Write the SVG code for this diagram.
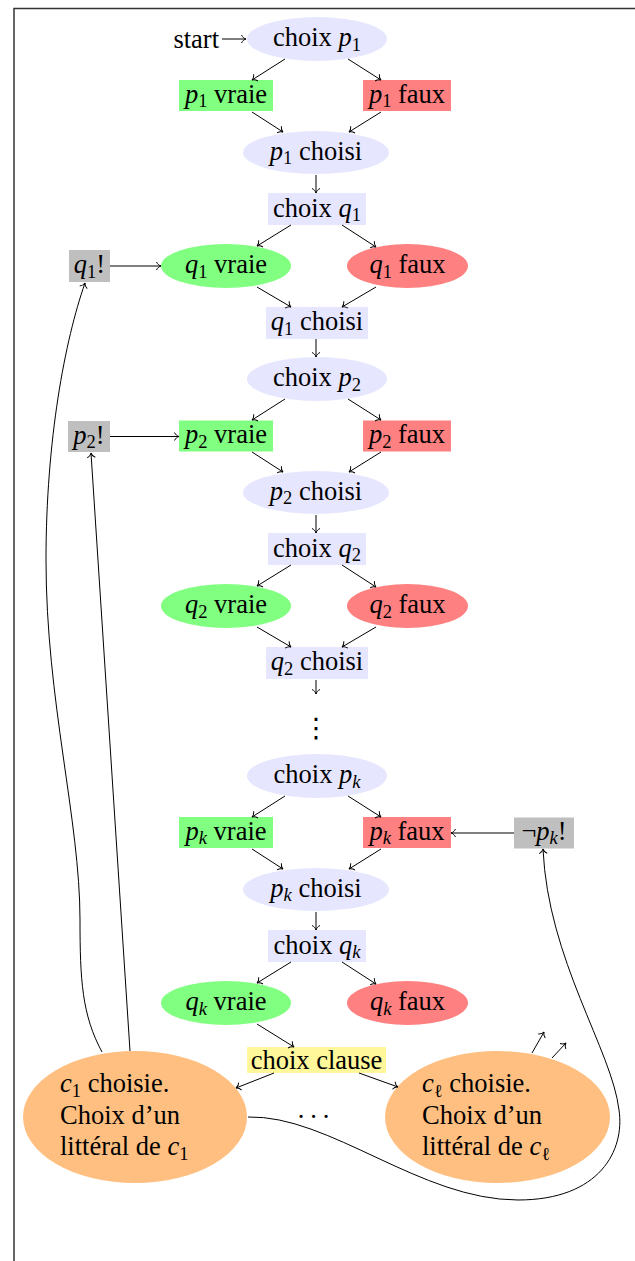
<svg xmlns="http://www.w3.org/2000/svg" width="635" height="1261" viewBox="0 0 635 1261">
<style>
.t{font-family:"Liberation Serif","Times New Roman",serif;font-size:26.5px;fill:#000}
.c{text-anchor:middle}
.m{font-style:italic}
.s{font-size:18.5px}
.lav{fill:#e6e6ff}
.grn{fill:#80ff80}
.red{fill:#ff8080}
.gry{fill:#bfbfbf}
.yel{fill:#fff799}
.org{fill:#ffbf80}
.e{fill:none;stroke:#000;stroke-width:1;marker-end:url(#ah)}
</style>
<defs>
<marker id="ah" viewBox="-6 -5 7 10" refX="0" refY="0" markerWidth="7" markerHeight="10" markerUnits="userSpaceOnUse" orient="auto" overflow="visible">
<path d="M-4.5,-4 C-3.5,-1.8 -1.6,-0.4 0,0 C-1.6,0.4 -3.5,1.8 -4.5,4" fill="none" stroke="#000" stroke-width="1"/>
</marker>
</defs>
<rect width="635" height="1261" fill="#fff"/>
<path d="M14,1261 V8.5 H635" fill="none" stroke="#333" stroke-width="1.5"/>

<!-- Block 1 -->
<g id="choix_p1"><ellipse class="lav" cx="317" cy="39" rx="70" ry="22"/><text class="t c" x="317" y="46">choix <tspan class="m">p</tspan><tspan class="s" dy="4.5">1</tspan></text></g>
<g id="p1_vraie"><rect class="grn" x="179" y="80" width="94" height="31"/><text class="t c" x="226" y="102.5"><tspan class="m">p</tspan><tspan class="s" dy="4.5">1</tspan><tspan dy="-4.5"> vraie</tspan></text></g>
<g id="p1_faux"><rect class="red" x="363" y="80" width="88" height="31"/><text class="t c" x="407" y="102.5"><tspan class="m">p</tspan><tspan class="s" dy="4.5">1</tspan><tspan dy="-4.5"> faux</tspan></text></g>
<g id="p1_choisi"><ellipse class="lav" cx="316" cy="152.5" rx="73" ry="21.5"/><text class="t c" x="316" y="159.5"><tspan class="m">p</tspan><tspan class="s" dy="4.5">1</tspan><tspan dy="-4.5"> choisi</tspan></text></g>
<g id="choix_q1"><rect class="lav" x="268" y="193" width="98" height="32"/><text class="t c" x="317" y="216.5">choix <tspan class="m">q</tspan><tspan class="s" dy="4.5">1</tspan></text></g>
<g id="q1_vraie"><ellipse class="grn" cx="226" cy="266" rx="65" ry="22"/><text class="t c" x="226" y="273"><tspan class="m">q</tspan><tspan class="s" dy="4.5">1</tspan><tspan dy="-4.5"> vraie</tspan></text></g>
<g id="q1_faux"><ellipse class="red" cx="407.5" cy="266" rx="60.5" ry="22"/><text class="t c" x="407.5" y="273"><tspan class="m">q</tspan><tspan class="s" dy="4.5">1</tspan><tspan dy="-4.5"> faux</tspan></text></g>
<g id="q1_choisi"><rect class="lav" x="266" y="307" width="102" height="32"/><text class="t c" x="317" y="330"><tspan class="m">q</tspan><tspan class="s" dy="4.5">1</tspan><tspan dy="-4.5"> choisi</tspan></text></g>
<g id="q1_force"><rect class="gry" x="69" y="250" width="41" height="32"/><text class="t c" x="89.5" y="273"><tspan class="m">q</tspan><tspan class="s" dy="4.5">1</tspan><tspan dy="-4.5">!</tspan></text></g>

<!-- Block 2 -->
<g id="choix_p2"><ellipse class="lav" cx="317" cy="379" rx="70" ry="22"/><text class="t c" x="317" y="386">choix <tspan class="m">p</tspan><tspan class="s" dy="4.5">2</tspan></text></g>
<g id="p2_vraie"><rect class="grn" x="179" y="420.5" width="94" height="31"/><text class="t c" x="226" y="443"><tspan class="m">p</tspan><tspan class="s" dy="4.5">2</tspan><tspan dy="-4.5"> vraie</tspan></text></g>
<g id="p2_faux"><rect class="red" x="363" y="420.5" width="88" height="31"/><text class="t c" x="407" y="443"><tspan class="m">p</tspan><tspan class="s" dy="4.5">2</tspan><tspan dy="-4.5"> faux</tspan></text></g>
<g id="p2_choisi"><ellipse class="lav" cx="316" cy="492.5" rx="73" ry="21.5"/><text class="t c" x="316" y="499.5"><tspan class="m">p</tspan><tspan class="s" dy="4.5">2</tspan><tspan dy="-4.5"> choisi</tspan></text></g>
<g id="choix_q2"><rect class="lav" x="268" y="533" width="98" height="32"/><text class="t c" x="317" y="556.5">choix <tspan class="m">q</tspan><tspan class="s" dy="4.5">2</tspan></text></g>
<g id="q2_vraie"><ellipse class="grn" cx="226" cy="606" rx="65" ry="22"/><text class="t c" x="226" y="613"><tspan class="m">q</tspan><tspan class="s" dy="4.5">2</tspan><tspan dy="-4.5"> vraie</tspan></text></g>
<g id="q2_faux"><ellipse class="red" cx="407.5" cy="606" rx="60.5" ry="22"/><text class="t c" x="407.5" y="613"><tspan class="m">q</tspan><tspan class="s" dy="4.5">2</tspan><tspan dy="-4.5"> faux</tspan></text></g>
<g id="q2_choisi"><rect class="lav" x="266" y="647" width="102" height="32"/><text class="t c" x="317" y="670"><tspan class="m">q</tspan><tspan class="s" dy="4.5">2</tspan><tspan dy="-4.5"> choisi</tspan></text></g>
<g id="p2_force"><rect class="gry" x="68" y="421" width="42" height="31"/><text class="t c" x="89" y="443.5"><tspan class="m">p</tspan><tspan class="s" dy="4.5">2</tspan><tspan dy="-4.5">!</tspan></text></g>

<g id="vdots"><text x="316" y="737" text-anchor="middle" style="font-family:'DejaVu Sans',sans-serif;font-size:27px;fill:#000">⋮</text></g>

<!-- Block k -->
<g id="choix_pk"><ellipse class="lav" cx="317" cy="776" rx="70" ry="22"/><text class="t c" x="317" y="783">choix <tspan class="m">p</tspan><tspan class="s m" dy="4.5">k</tspan></text></g>
<g id="pk_vraie"><rect class="grn" x="179" y="817" width="94" height="31"/><text class="t c" x="226" y="839.5"><tspan class="m">p</tspan><tspan class="s m" dy="4.5">k</tspan><tspan dy="-4.5"> vraie</tspan></text></g>
<g id="pk_faux"><rect class="red" x="363" y="817" width="88" height="31"/><text class="t c" x="407" y="839.5"><tspan class="m">p</tspan><tspan class="s m" dy="4.5">k</tspan><tspan dy="-4.5"> faux</tspan></text></g>
<g id="pk_choisi"><ellipse class="lav" cx="316" cy="889.5" rx="73" ry="21.5"/><text class="t c" x="316" y="896.5"><tspan class="m">p</tspan><tspan class="s m" dy="4.5">k</tspan><tspan dy="-4.5"> choisi</tspan></text></g>
<g id="choix_qk"><rect class="lav" x="268" y="930" width="98" height="32"/><text class="t c" x="317" y="953.5">choix <tspan class="m">q</tspan><tspan class="s m" dy="4.5">k</tspan></text></g>
<g id="qk_vraie"><ellipse class="grn" cx="226" cy="1003" rx="65" ry="22"/><text class="t c" x="226" y="1010"><tspan class="m">q</tspan><tspan class="s m" dy="4.5">k</tspan><tspan dy="-4.5"> vraie</tspan></text></g>
<g id="qk_faux"><ellipse class="red" cx="407.5" cy="1003" rx="60.5" ry="22"/><text class="t c" x="407.5" y="1010"><tspan class="m">q</tspan><tspan class="s m" dy="4.5">k</tspan><tspan dy="-4.5"> faux</tspan></text></g>
<g id="notpk_force"><rect class="gry" x="514" y="817.5" width="60" height="31"/><text class="t c" x="544" y="839.5">¬<tspan class="m">p</tspan><tspan class="s m" dy="4.5">k</tspan><tspan dy="-4.5">!</tspan></text></g>

<g id="choix_clause"><rect class="yel" x="247" y="1047" width="139" height="26"/><text class="t c" x="316.5" y="1068.5">choix clause</text></g>
<g id="c1"><ellipse class="org" cx="135" cy="1117" rx="112" ry="66"/><text class="t"><tspan x="60" y="1092"><tspan class="m">c</tspan><tspan class="s" dy="4.5">1</tspan><tspan dy="-4.5"> choisie.</tspan></tspan><tspan x="60" y="1123.5">Choix d’un</tspan><tspan x="60" y="1155">littéral de <tspan class="m">c</tspan><tspan class="s" dy="4.5">1</tspan></tspan></text></g>
<g id="cl"><ellipse class="org" cx="497.5" cy="1117" rx="112.5" ry="66"/><text class="t"><tspan x="422" y="1092"><tspan class="m">c</tspan><tspan class="s" dy="4.5">ℓ</tspan><tspan dy="-4.5"> choisie.</tspan></tspan><tspan x="422" y="1123.5">Choix d’un</tspan><tspan x="422" y="1155">littéral de <tspan class="m">c</tspan><tspan class="s" dy="4.5">ℓ</tspan></tspan></text></g>
<g id="hdots"><text class="t c"><tspan x="301" y="1118">.</tspan><tspan x="313.5" y="1118">.</tspan><tspan x="326" y="1118">.</tspan></text></g>
<g id="start_label"><text class="t" x="219" y="47.5" text-anchor="end">start</text></g>

<g id="connectors">
<path class="e" d="M222,39 L246,39"/>
<path class="e" d="M285,59 L252,80"/>
<path class="e" d="M348,59 L381,80"/>
<path class="e" d="M252,112 L283,132"/>
<path class="e" d="M381,112 L349,132"/>
<path class="e" d="M316,175 L316,193"/>
<path class="e" d="M291,225 L257,246"/>
<path class="e" d="M342,225 L376,247"/>
<path class="e" d="M257,287 L291,307"/>
<path class="e" d="M376,287 L342,307"/>
<path class="e" d="M316,339 L316,357"/>
<path class="e" d="M285,399 L252,420"/>
<path class="e" d="M348,399 L381,420"/>
<path class="e" d="M252,452 L283,472"/>
<path class="e" d="M381,452 L349,472"/>
<path class="e" d="M316,515 L316,533"/>
<path class="e" d="M291,565 L257,586"/>
<path class="e" d="M342,565 L376,587"/>
<path class="e" d="M257,627 L291,647"/>
<path class="e" d="M376,627 L342,647"/>
<path class="e" d="M316,680 L316,694"/>
<path class="e" d="M285,796 L252,817"/>
<path class="e" d="M348,796 L381,817"/>
<path class="e" d="M252,849 L283,869"/>
<path class="e" d="M381,849 L349,869"/>
<path class="e" d="M316,912 L316,930"/>
<path class="e" d="M291,962 L257,983"/>
<path class="e" d="M342,962 L376,984"/>
<path class="e" d="M257,1024 L294,1047"/>
<path class="e" d="M274,1073 L236,1088"/>
<path class="e" d="M359,1073 L398,1087"/>
<path class="e" d="M110,266 L161,266"/>
<path class="e" d="M110,436.5 L179,436.5"/>
<path class="e" d="M514,833 L451,833"/>
<path class="e" d="M102,1052 C82,1015 80,980 80,920 C80,820 46,700 46,560 C46,440 65,340 85,283"/>
<path class="e" d="M130,1051 L91,453"/>
<path class="e" d="M248,1117 C330,1115 420,1200 518,1200 C600,1200 625,1150 619,1110 C612,1050 548,960 543,849"/>
<path class="e" d="M532,1053 L544,1032"/>
<path class="e" d="M552,1058 L566,1043"/>
</g>
</svg>
